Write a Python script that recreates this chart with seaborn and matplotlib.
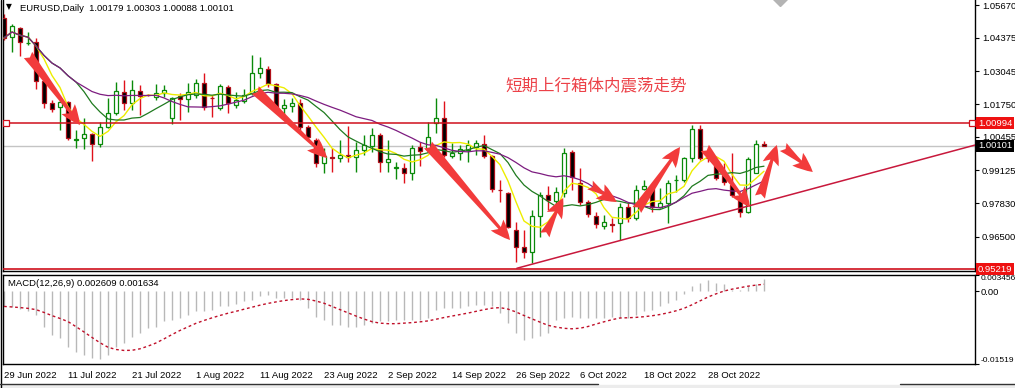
import numpy as np
import pandas as pd
import matplotlib
matplotlib.use("Agg")
import matplotlib.pyplot as plt
import matplotlib.transforms as mtransforms
from matplotlib.patches import Rectangle
from matplotlib.lines import Line2D
import seaborn as sns

sns.set_style("white")
plt.rcParams['font.family'] = ['Liberation Sans', 'DejaVu Sans']

# ---------------- data ----------------
opens = [1.05159, 1.04406, 1.04763, 1.04149, 1.04208, 1.02664, 1.01793, 1.01634, 1.01832, 1.00347,
         1.00407, 1.00565, 1.00169, 1.00842, 1.01397, 1.02228, 1.01793, 1.02268, 1.02109, 1.02030,
         1.02189, 1.01199, 1.02070, 1.01951, 1.02109, 1.02573, 1.01991, 1.01583, 1.02414, 1.01713,
         1.01884, 1.02177, 1.02969, 1.03127, 1.02533, 1.01583, 1.01674, 1.01805, 1.00830, 1.00327,
         0.99405, 0.99654, 0.99603, 0.99733, 0.99642, 0.99931, 1.00090, 1.00525, 0.99444, 0.99231,
         0.99207, 0.99009, 1.00038, 0.99971, 1.00989, 1.01187, 0.99694, 0.99801, 0.99931, 1.00062,
         1.00169, 0.99694, 0.98347, 0.98241, 0.96763, 0.96102, 0.95904, 0.97318, 0.98149, 0.97924,
         0.98217, 0.99864, 0.98613, 0.97884, 0.97318, 0.96934, 0.97001, 0.97029, 0.97686, 0.97227,
         0.98375, 0.98415, 0.97686, 0.97821, 0.98731, 0.98743, 0.99603, 1.00751, 0.99654, 0.99337,
         0.98941, 0.98545, 0.97979, 0.97488, 0.99033, 1.00179]
highs = [1.05317, 1.04921, 1.04802, 1.04604, 1.04367, 1.02783, 1.01911, 1.01911, 1.01872, 1.00723,
         1.01199, 1.00605, 1.01040, 1.01991, 1.02624, 1.02703, 1.02703, 1.02505, 1.02149, 1.02545,
         1.02505, 1.02030, 1.02189, 1.02585, 1.02731, 1.02969, 1.02109, 1.02545, 1.02505, 1.02240,
         1.02335, 1.03693, 1.03626, 1.03258, 1.02597, 1.01939, 1.01979, 1.01939, 1.00921, 1.00395,
         0.99999, 0.99999, 1.00327, 1.00882, 1.00260, 1.00525, 1.00791, 1.00593, 1.00327, 0.99468,
         0.99405, 1.00129, 1.00260, 1.01052, 1.01979, 1.01884, 1.00197, 1.00129, 1.00327, 1.00327,
         1.00525, 0.99733, 0.98743, 0.98280, 0.97092, 0.96763, 0.97555, 0.98280, 0.98506, 0.98478,
         0.99999, 0.99931, 0.99207, 0.97951, 0.97488, 0.97357, 0.97227, 0.97821, 0.97845, 0.98545,
         0.98743, 0.98585, 0.98415, 0.98743, 0.98941, 0.99666, 1.00921, 1.00921, 0.99931, 0.99603,
         0.99405, 0.99801, 0.98149, 0.99666, 1.00327, 1.00303]
lows = [1.04287, 1.03812, 1.03654, 1.04089, 1.02347, 1.01595, 1.01436, 1.00723, 1.00327, 1.00011,
        0.99971, 0.99496, 1.00050, 1.00803, 1.01317, 1.01515, 1.01515, 1.01317, 1.02050, 1.01911,
        1.02030, 1.00961, 1.01119, 1.01436, 1.01979, 1.01515, 1.01226, 1.01515, 1.01385, 1.01583,
        1.01805, 1.02109, 1.02771, 1.02438, 1.01515, 1.01278, 1.01448, 1.00723, 1.00327, 0.99270,
        0.99009, 0.99072, 0.99468, 0.99468, 0.99072, 0.99733, 0.99864, 0.99072, 0.99072, 0.98771,
        0.98613, 0.98743, 0.99298, 0.99864, 1.00593, 0.99666, 0.99603, 0.99535, 0.99468, 0.99733,
        0.99603, 0.98280, 0.97884, 0.96831, 0.95508, 0.95643, 0.95445, 0.96498, 0.97555, 0.97753,
        0.98082, 0.98347, 0.97753, 0.97266, 0.96831, 0.96791, 0.96696, 0.96367, 0.97092, 0.97159,
        0.98347, 0.97488, 0.97623, 0.97029, 0.98280, 0.98676, 0.99468, 0.99535, 0.99456, 0.98743,
        0.98545, 0.98082, 0.97290, 0.97425, 0.99009, 1.00088]
closes = [1.04367, 1.04842, 1.04208, 1.04188, 1.02664, 1.01793, 1.01555, 1.01832, 1.00407, 1.00367,
          1.00565, 1.00169, 1.00842, 1.01397, 1.02268, 1.01793, 1.02307, 1.02070, 1.02090, 1.02189,
          1.02307, 1.01991, 1.01951, 1.02228, 1.02573, 1.01646, 1.01971, 1.02466, 1.01781, 1.01911,
          1.02109, 1.02969, 1.03167, 1.02533, 1.01583, 1.01713, 1.01805, 1.00830, 1.00458, 0.99405,
          0.99694, 0.99634, 0.99733, 0.99642, 0.99931, 1.00129, 1.00525, 0.99468, 0.99575, 0.99246,
          0.99009, 0.99999, 0.99904, 1.00434, 1.01187, 0.99733, 0.99825, 0.99959, 1.00129, 1.00221,
          0.99694, 0.98375, 0.98328, 0.96894, 0.96102, 0.95904, 0.97318, 0.98149, 0.97951, 0.98280,
          0.99825, 0.98874, 0.97884, 0.97397, 0.97001, 0.97068, 0.96981, 0.97686, 0.97227, 0.98347,
          0.98506, 0.97686, 0.97821, 0.98613, 0.98743, 0.99603, 1.00751, 0.99603, 0.99595, 0.98811,
          0.98676, 0.98149, 0.97488, 0.99563, 1.00157, 1.00101]
macd_main = [-0.0032, -0.0034, -0.0037, -0.0041, -0.0049, -0.0074, -0.0091, -0.0098, -0.0116, -0.0127,
             -0.0133, -0.0140, -0.0141, -0.0133, -0.0116, -0.0109, -0.0095, -0.0088, -0.0077, -0.0074,
             -0.0063, -0.0060, -0.0056, -0.0049, -0.0042, -0.0042, -0.0039, -0.0032, -0.0032, -0.0027,
             -0.0021, -0.0018, -0.0011, -0.0009, -0.0014, -0.0014, -0.0014, -0.0018, -0.0035, -0.0053,
             -0.0060, -0.0070, -0.0070, -0.0074, -0.0074, -0.0070, -0.0067, -0.0063, -0.0063, -0.0060,
             -0.0060, -0.0060, -0.0060, -0.0056, -0.0039, -0.0035, -0.0035, -0.0035, -0.0032, -0.0028,
             -0.0028, -0.0032, -0.0046, -0.0067, -0.0088, -0.0102, -0.0098, -0.0093, -0.0088, -0.0060,
             -0.0056, -0.0055, -0.0056, -0.0056, -0.0056, -0.0056, -0.0053, -0.0056, -0.0056, -0.0049,
             -0.0042, -0.0039, -0.0032, -0.0025, -0.0018, -0.0006, 0.0010, 0.0017, 0.0024, 0.0017,
             0.0014, 0.0003, 0.0003, 0.0010, 0.0014, 0.0026]

date_labels = ["29 Jun 2022", "11 Jul 2022", "21 Jul 2022", "1 Aug 2022", "11 Aug 2022", "23 Aug 2022",
               "2 Sep 2022", "14 Sep 2022", "26 Sep 2022", "6 Oct 2022", "18 Oct 2022", "28 Oct 2022"]
date_label_idx = [0, 8, 16, 24, 32, 40, 48, 56, 64, 72, 80, 88]
price_ticks = [1.05670, 1.04375, 1.03045, 1.01750, 1.00455, 0.99125, 0.97830, 0.96500]
resistance_level = 1.00994
bid_level = 1.00101
low_level = 0.95219
macd_ticks = [-0.01519, 0.0, 0.003456]
macd_tick_labels = ["-0.01519", "0.00", "0.003456"]
trend_x = [64.1, 121.4]
trend_y = [0.95247, 1.00129]
# arrows: (x0, y0, x1, y1) in bar index / price
arrows = [(3.0, 1.03693, 9.5, 1.00921), (31.4, 1.02307, 40.4, 0.99615), (53.0, 1.00129, 63.25, 0.96367),
          (67.6, 0.96565, 69.9, 0.98031), (73.25, 0.98545, 76.6, 0.97872), (79.1, 0.97555, 84.5, 1.00050),
          (87.6, 1.00011, 93.25, 0.97674), (94.5, 0.98070, 96.6, 1.00129), (97.4, 1.00050, 101.1, 0.99060)]
annotation = "短期上行箱体内震荡走势"
title = "EURUSD,Daily  1.00179 1.00303 1.00088 1.00101"
macd_title = "MACD(12,26,9) 0.002609 0.001634"

df = pd.DataFrame({"o": opens, "h": highs, "l": lows, "c": closes, "macd": macd_main})
df["i"] = np.arange(len(df))
df["ma5"] = df["c"].rolling(5, min_periods=1).mean()
df["ma10"] = df["c"].rolling(10, min_periods=1).mean()
df["ma20"] = df["c"].rolling(20, min_periods=1).mean()
df["signal"] = df["macd"].rolling(9, min_periods=1).mean()

# ---------------- layout ----------------
W, H = 1015, 388
fig = plt.figure(figsize=(W / 100, H / 100), dpi=100)
fig.patch.set_facecolor("white")
ax = fig.add_axes([3 / W, 1 - 271 / H, 972 / W, 271 / H])
ax2 = fig.add_axes([3 / W, 1 - 364 / H, 972 / W, (364 - 274.5) / H])
xlim = (-0.125, 121.375)
FS = 6.8
RED = "#d0101c"
GREEN = "#0a8a0a"

# ---------------- candles ----------------
bull = df["c"] >= df["o"]
ax.vlines(df["i"][bull], df["l"][bull], df["h"][bull], color=GREEN, lw=1, zorder=2)
ax.vlines(df["i"][~bull], df["l"][~bull], df["h"][~bull], color="#e0101a", lw=1, zorder=2)
body_lo = np.minimum(df["o"], df["c"])
body_h = np.abs(df["c"] - df["o"])
ax.bar(df["i"][bull], body_h[bull], bottom=body_lo[bull], width=0.55, color="white",
       edgecolor=GREEN, linewidth=0.9, zorder=3)
ax.bar(df["i"][~bull], body_h[~bull], bottom=body_lo[~bull], width=0.55, color="black",
       edgecolor="#b0101a", linewidth=0.9, zorder=3)

# moving averages
sns.lineplot(data=df, x="i", y="ma5", color="#eded00", lw=1, ax=ax, zorder=4)
sns.lineplot(data=df, x="i", y="ma10", color="#1f7a1f", lw=0.9, ax=ax, zorder=4)
sns.lineplot(data=df, x="i", y="ma20", color="#7d1c80", lw=0.9, ax=ax, zorder=4)

# levels
ax.axhline(bid_level, color="#c4c4c4", lw=1, zorder=1)
ax.axhline(low_level, color=RED, lw=1.2, zorder=5)
ax.plot([xlim[0] + 0.35, xlim[1] - 0.35], [resistance_level] * 2, color=RED, lw=1.1, zorder=5,
        marker="s", ms=4, mfc="white", mec=RED, mew=0.9)
ax.plot(trend_x, trend_y, color="#c8183c", lw=1.1, zorder=5)

# arrows
for x0, y0, x1, y1 in arrows:
    ax.annotate("", xy=(x1, y1), xytext=(x0, y0),
                arrowprops=dict(arrowstyle="fancy,head_length=0.95,head_width=0.8,tail_width=0.5",
                                color="#f23b3b", lw=0, shrinkA=0, shrinkB=0, mutation_scale=15),
                zorder=6)

ax.plot(97.0, 1.0592, marker="D", color="#b4b4b4", ms=7, zorder=6, clip_on=True)

ax.set_xlim(*xlim)
ax.set_ylim(0.95140, 1.05871)
ax.set_xticks([])
ax.yaxis.tick_right()
ax.set_yticks(price_ticks + [resistance_level, bid_level, low_level])
ax.set_yticklabels([f"{v:.5f}" for v in price_ticks] + ["", "", ""])
ax.tick_params(axis="y", direction="out", length=3, width=0.8, pad=2, labelsize=FS, colors="black")
ax.set_xlabel("")
ax.set_ylabel("")
for s in ["left", "right", "bottom"]:
    ax.spines[s].set_visible(True)
    ax.spines[s].set_color("black")
    ax.spines[s].set_linewidth(1)
ax.spines["top"].set_visible(False)

tr = mtransforms.blended_transform_factory(ax.transAxes, ax.transData)
for val, fc in [(resistance_level, "#ee1111"), (bid_level, "black"), (low_level, "#ee1111")]:
    ax.text(1.0 + 3 / 972, val, f"{val:.5f}", transform=tr, ha="left", va="center", color="white",
            fontsize=FS, bbox=dict(boxstyle="square,pad=0.18", fc=fc, ec="none"), clip_on=False)

# ---------------- MACD ----------------
ax2.vlines(df["i"], 0, df["macd"], color="#b8b8b8", lw=1, zorder=2)
sns.lineplot(data=df, x="i", y="signal", color="#c0102a", lw=1, ax=ax2, zorder=3,
             linestyle=(0, (2, 2)))
ax2.set_xlim(*xlim)
ax2.set_ylim(-0.01519, 0.003456)
ax2.yaxis.tick_right()
ax2.set_yticks(macd_ticks)
ax2.set_yticklabels(macd_tick_labels)
ax2.tick_params(axis="y", direction="out", length=3, width=0.8, pad=1, labelsize=6.0, colors="black")
labs = ax2.get_yticklabels()
labs[0].set_verticalalignment("bottom")
labs[2].set_verticalalignment("top")
labs[1].set_fontsize(FS)
ax2.set_xticks(date_label_idx)
ax2.set_xticklabels(date_labels, ha="left")
ax2.tick_params(axis="x", direction="out", length=3, width=0.8, pad=2, labelsize=FS, colors="black")
ax2.set_xlabel("")
ax2.set_ylabel("")
for s in ax2.spines.values():
    s.set_visible(True)
    s.set_color("black")
    s.set_linewidth(1)

# ---------------- texts ----------------
fig.text(20 / W, 1 - 8.5 / H, title, fontsize=FS, va="center", ha="left", color="black")
fig.text(6 / W, 1 - 7 / H, "▼", fontsize=5.5, va="center", ha="left", color="black",
         family=["DejaVu Sans"])
fig.text(8 / W, 1 - 283 / H, macd_title, fontsize=FS, va="center", ha="left", color="black")
fig.text(505 / W, 1 - 86 / H, annotation, fontsize=11.9, va="center", ha="left", color="#ec4148",
         family=["Noto Sans CJK SC", "DejaVu Sans"])

fig.add_artist(Line2D([0.6 / W, 0.6 / W], [0, 1], color="black", lw=1))
fig.add_artist(Rectangle((0, 0), 1, 3.5 / H, transform=fig.transFigure, color="#ececec", zorder=0))
fig.add_artist(Line2D([0, 598 / W], [3.8 / H, 3.8 / H], color="#333333", lw=1))
fig.add_artist(Line2D([900 / W, 1], [3.8 / H, 3.8 / H], color="#333333", lw=1))

fig.savefig("out.png", dpi=100)
